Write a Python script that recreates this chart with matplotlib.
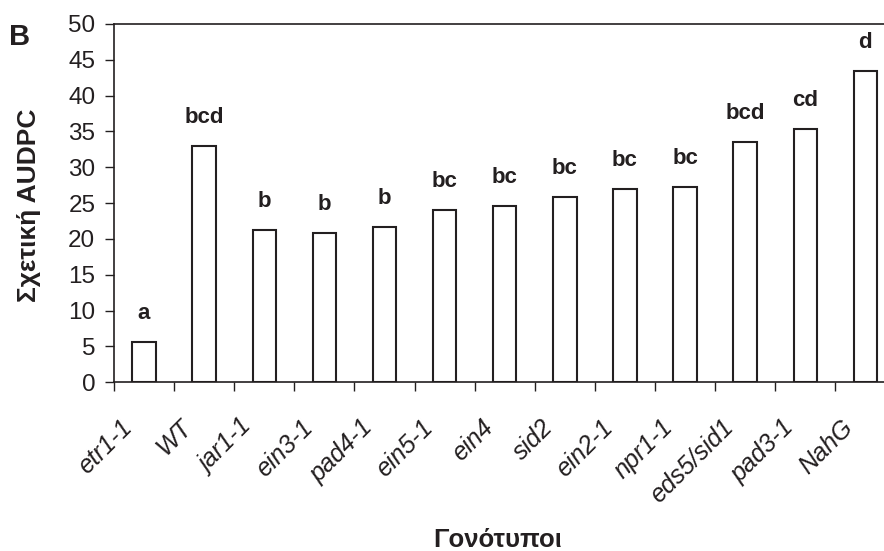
import matplotlib
matplotlib.use("Agg")
import matplotlib.pyplot as plt
import numpy as np

plt.rcParams['font.family'] = ['Liberation Sans', 'DejaVu Sans']

genotypes = ["etr1-1", "WT", "jar1-1", "ein3-1", "pad4-1", "ein5-1", "ein4",
             "sid2", "ein2-1", "npr1-1", "eds5/sid1", "pad3-1", "NahG"]
audpc = [5.6, 33.0, 21.2, 20.8, 21.7, 24.1, 24.6, 25.8, 27.0, 27.3, 33.5, 35.3, 43.5]
groups = ["a", "bcd", "b", "b", "b", "bc", "bc", "bc", "bc", "bc", "bcd", "cd", "d"]

ink = "#231f20"

fig = plt.figure(figsize=(8.84, 5.51), dpi=100)
ax = fig.add_axes([114 / 884, 1 - 382.3 / 551, 1 - 114 / 884, (382.3 - 24) / 551])

x = np.arange(len(genotypes))
ax.bar(x, audpc, width=0.39, facecolor="white", edgecolor=ink, linewidth=1.5, zorder=3)

for xi, v, g in zip(x, audpc, groups):
    ax.annotate(g, (xi, v), xytext=(0, 13), textcoords="offset points",
                ha="center", va="bottom", fontsize=16, fontweight="bold", color=ink)

ax.set_xlim(-0.5, 12.31)
ax.set_ylim(0, 50)
ax.set_yticks(np.arange(0, 51, 5))
ax.tick_params(axis="y", labelsize=17.5, length=6.5, width=1, color=ink, labelcolor=ink, pad=7)

# ticks sit between the bars, labels at the bar centres
ax.set_xticks(np.arange(-0.5, 12.5, 1))
ax.set_xticklabels([])
ax.tick_params(axis="x", length=6.5, width=1, color=ink)
for xi, name in zip(x, genotypes):
    ax.text(xi - 0.4, -4.6, name, rotation=45, ha="right", va="top",
            rotation_mode="anchor", fontsize=18, fontstyle="italic", color=ink)

for side in ["left", "bottom", "top"]:
    ax.spines[side].set_color(ink)
    ax.spines[side].set_linewidth(1.2)
ax.spines["right"].set_visible(False)

fig.text(29 / 884, 1 - 205 / 551, "Σχετική AUDPC", rotation=90, ha="center", va="center",
         fontsize=19, fontweight="bold", color=ink)
fig.text(498 / 884, 1 - 540 / 551, "Γονότυποι", ha="center", va="center",
         fontsize=18.5, fontweight="bold", color=ink)
fig.text(20 / 884, 1 - 37 / 551, "B", ha="center", va="center", fontsize=21, fontweight="bold", color=ink)

fig.savefig("out.png", dpi=100)
